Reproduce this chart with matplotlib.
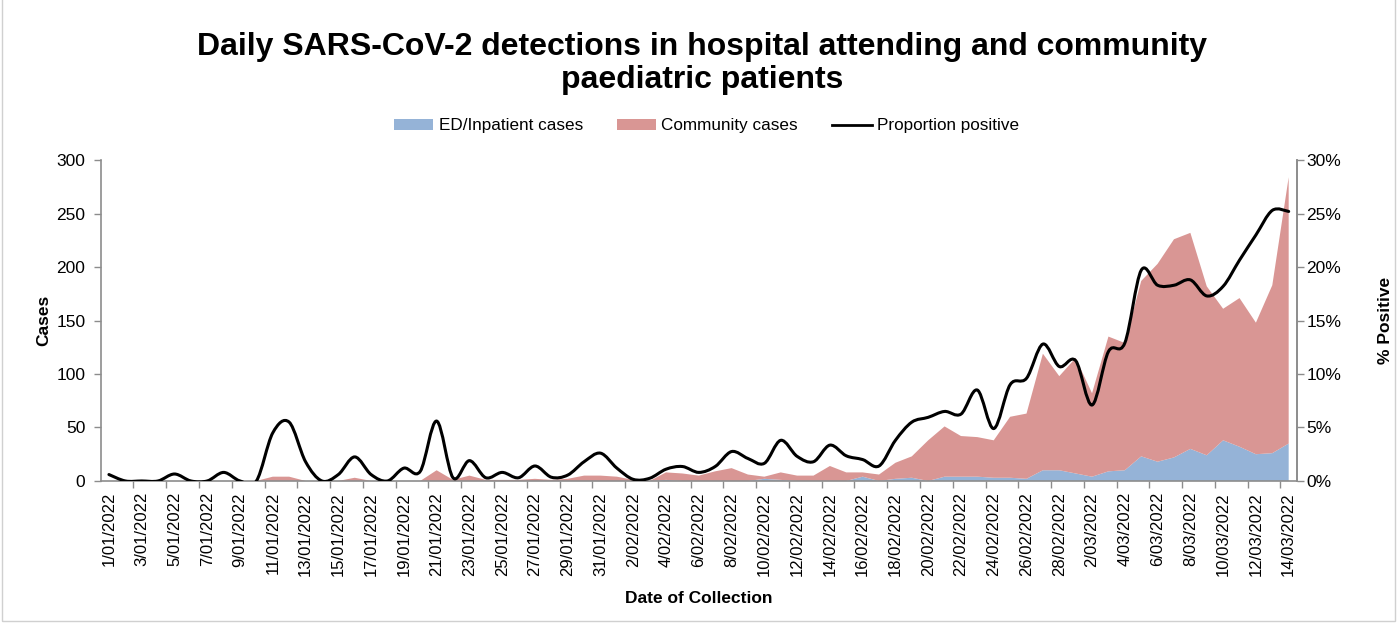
"""Daily SARS-CoV-2 detections chart (stacked areas + smoothed proportion line)."""

import matplotlib

matplotlib.use("Agg")
import matplotlib.pyplot as plt
import numpy as np
import pandas as pd
from matplotlib.lines import Line2D
from matplotlib.patches import Patch, PathPatch, Rectangle
from matplotlib.path import Path

plt.rcParams["font.family"] = ["Liberation Sans", "DejaVu Sans"]

# one category per day, 1/01/2022 .. 14/03/2022
dates = pd.date_range("2022-01-01", "2022-03-14", freq="D")
date_labels = [f"{d.day}/{d.month:02d}/{d.year}" for d in dates]

ed_inpatient = [
    0, 0, 0, 0, 0, 0, 0, 0, 0, 0,
    0, 0, 0, 0, 0, 0, 0, 0, 0, 0,
    0, 0, 0, 0, 0, 0, 0, 0, 0, 0,
    0, 0, 0, 0, 1, 0, 0, 0, 0, 0,
    2, 1, 0, 0, 0, 0, 4, 0, 2, 3,
    0, 4, 4, 4, 3, 3, 2, 10, 10, 7,
    4, 9, 10, 23, 18, 22, 30, 24, 38, 32,
    25, 26, 35,
]
community = [
    0, 0, 0, 0, 0, 0, 0, 0, 0, 0,
    4, 4, 0, 0, 0, 3, 0, 0, 0, 0,
    10, 1, 5, 1, 1, 1, 2, 1, 2, 5,
    5, 4, 1, 0, 7, 7, 5, 9, 12, 6,
    2, 7, 5, 5, 14, 8, 4, 6, 15, 20,
    38, 47, 38, 37, 35, 57, 61, 109, 88, 108,
    78, 126, 119, 164, 185, 204, 202, 158, 123, 139,
    123, 157, 249,
]
proportion_pct = [
    0.6, 0.0, 0.0, 0.0, 0.65, 0.0, 0.0, 0.8, 0.0, 0.0,
    4.5, 5.5, 1.8, 0.0, 0.6, 2.25, 0.6, 0.0, 1.2, 0.9,
    5.6, 0.3, 1.9, 0.3, 0.8, 0.3, 1.4, 0.35, 0.55, 1.8,
    2.6, 1.2, 0.15, 0.25, 1.1, 1.35, 0.8, 1.35, 2.75, 2.1,
    1.65, 3.8, 2.3, 1.8, 3.35, 2.35, 2.0, 1.4, 3.8, 5.5,
    5.95, 6.5, 6.25, 8.5, 4.9, 9.0, 9.6, 12.8, 10.7, 11.25,
    7.1, 12.1, 12.9, 19.7, 18.3, 18.3, 18.8, 17.3, 18.2, 20.65,
    23.0, 25.3, 25.2,
]

BLUE = "#95b3d7"
RED = "#d99694"
GREY = "#8c8c8c"


def smooth_path(xs, ys):
    """Excel-style smoothed line: cubic Bezier segments through each point."""
    pts = np.column_stack([xs, ys]).astype(float)
    verts = [pts[0]]
    codes = [Path.MOVETO]
    n = len(pts)
    for i in range(n - 1):
        p0 = pts[max(i - 1, 0)]
        p1 = pts[i]
        p2 = pts[i + 1]
        p3 = pts[min(i + 2, n - 1)]
        c1 = p1 + (p2 - p0) / 6.0
        c2 = p2 - (p3 - p1) / 6.0
        verts += [c1, c2, p2]
        codes += [Path.CURVE4] * 3
    return Path(verts, codes)


x = np.arange(len(dates))

fig = plt.figure(figsize=(13.99, 6.23), dpi=100)
ax = fig.add_axes([0.072, 0.228, 0.855, 0.515])

ax.stackplot(x, ed_inpatient, community, colors=[BLUE, RED], linewidth=0)
ax.set_xlim(-0.5, len(x) - 0.5)
ax.set_ylim(0, 300)
ax.set_yticks(np.arange(0, 301, 50))

# date labels on every second category, tick marks on category boundaries
ax.set_xticks(x[::2])
ax.set_xticklabels(date_labels[::2], rotation=90, fontsize=12)
ax.set_xticks(np.arange(1.5, len(x) - 0.5, 2), minor=True)
ax.tick_params(axis="x", which="major", length=0, pad=8)
ax.tick_params(axis="x", which="minor", length=5, color=GREY, width=1)
ax.tick_params(axis="y", length=5, color=GREY, width=1, labelsize=12.5, pad=6)

ax.spines["top"].set_visible(False)
for side in ["left", "bottom", "right"]:
    ax.spines[side].set_color(GREY)
    ax.spines[side].set_linewidth(1.2)

ax.set_ylabel("Cases", fontsize=12.5, fontweight="bold", labelpad=4)
ax.set_xlabel("Date of Collection", fontsize=12.5, fontweight="bold", labelpad=11)

ax2 = ax.twinx()
ax2.set_ylim(0, 30)
ax2.set_yticks(np.arange(0, 31, 5))
ax2.set_yticklabels([f"{v}%" for v in range(0, 31, 5)])
ax2.tick_params(axis="y", length=5, color=GREY, width=1, labelsize=12.5, pad=2)
for side in ["top", "left", "bottom"]:
    ax2.spines[side].set_visible(False)
ax2.spines["right"].set_color(GREY)
ax2.spines["right"].set_linewidth(1.2)
ax2.set_ylabel("% Positive", fontsize=12.5, fontweight="bold", rotation=90, labelpad=26)

line_path = smooth_path(x, proportion_pct)
ax2.add_patch(PathPatch(line_path, facecolor="none", edgecolor="black", linewidth=2.2,
                        capstyle="round", joinstyle="round"))

handles = [
    Patch(facecolor=BLUE, edgecolor="none"),
    Patch(facecolor=RED, edgecolor="none"),
    Line2D([0], [0], color="black", linewidth=2),
]
fig.legend(handles, ["ED/Inpatient cases", "Community cases", "Proportion positive"],
           loc="center", bbox_to_anchor=(0.505, 0.798), ncol=3, frameon=False,
           fontsize=12.3, handlelength=2.3, handleheight=0.6, columnspacing=2.0,
           handletextpad=0.3)

fig.text(0.502, 0.948,
         "Daily SARS-CoV-2 detections in hospital attending and community\npaediatric patients",
         ha="center", va="top", fontsize=23, fontweight="bold", linespacing=1.1)

fig.patches.append(Rectangle((0.0015, 0.004), 0.9955, 1.1, transform=fig.transFigure,
                             fill=False, edgecolor="#d0d0d0", linewidth=1))

fig.savefig("out.png", dpi=100)
